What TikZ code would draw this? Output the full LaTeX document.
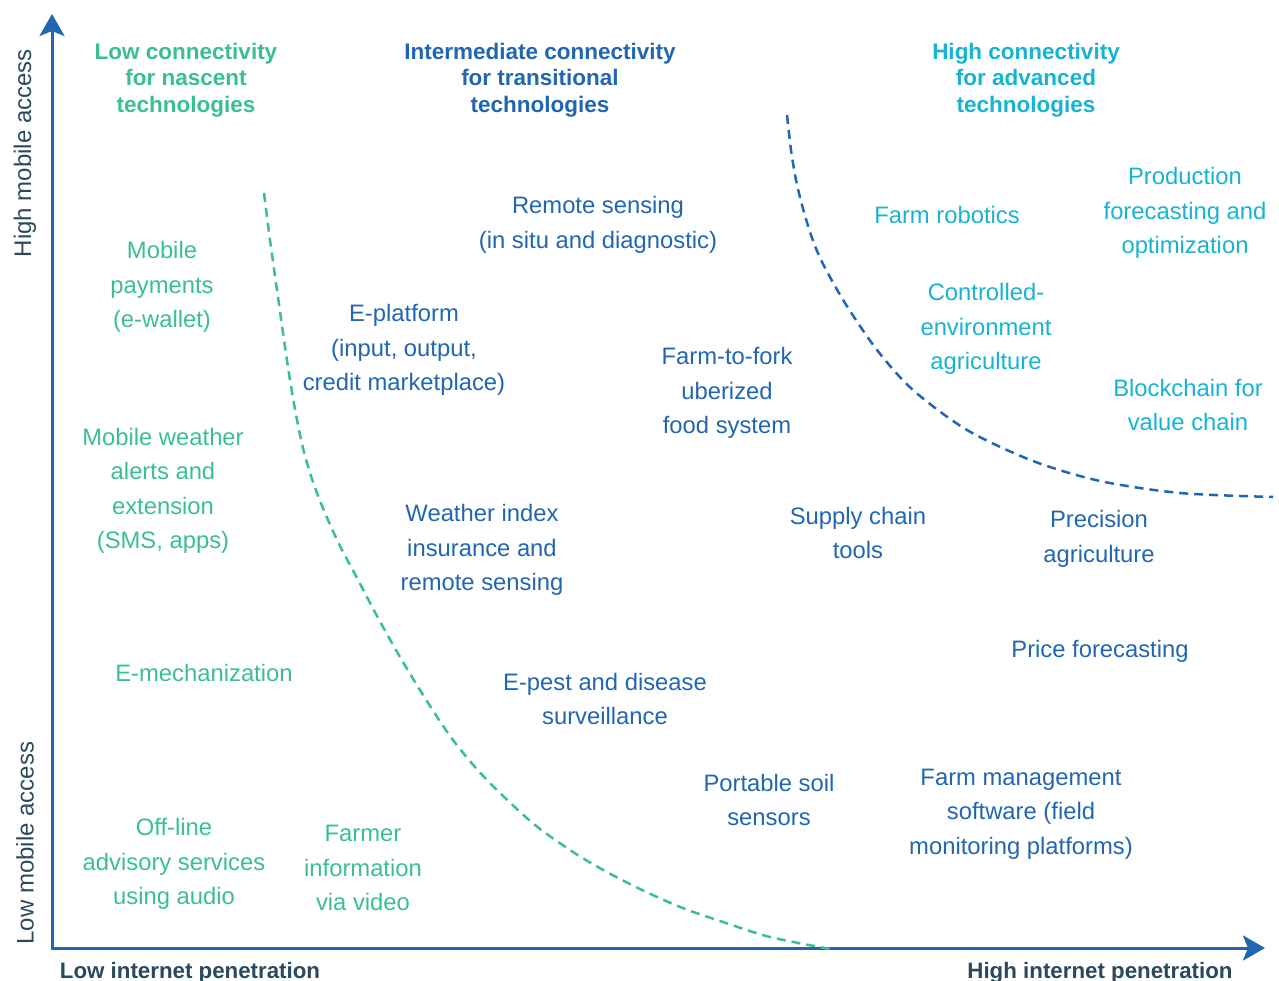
\documentclass[tikz,border=0pt]{standalone}
\usepackage{fontspec}
\setmainfont{Liberation Sans}
\usetikzlibrary{arrows.meta}
\definecolor{cgreen}{HTML}{3ABE96}
\definecolor{cblue}{HTML}{2166B1}
\definecolor{ccyan}{HTML}{17B3D1}
\definecolor{cdark}{HTML}{2A4A5C}
\begin{document}
\begin{tikzpicture}[x=1pt,y=-1pt,
  item/.style={inner sep=0pt,align=center,font=\fontsize{23.8}{34.5}\selectfont},
  head/.style={inner sep=0pt,align=center,font=\fontsize{22.5}{26.5}\selectfont\bfseries},
  axlab/.style={inner sep=0pt,text=cdark},
  gitem/.style={item,text=cgreen},
  bitem/.style={item,text=cblue},
  citem/.style={item,text=ccyan},
  axisline/.style={draw=cblue,line width=3pt,{Stealth[length=22pt,width=25pt,inset=5pt]}-{Stealth[length=22pt,width=25pt,inset=5pt]}},
  border/.style={line width=2.5pt,dash pattern=on 9pt off 6pt}]
\useasboundingbox (0,0) rectangle (1279,981);
% axes
\coordinate (ytop) at (52,14);
\coordinate (orig) at (52,948);
\coordinate (xend) at (1265,948);
\draw[axisline] (ytop) -- (orig) -- (xend);
% boundaries
\draw[border,draw=cgreen] plot[smooth,tension=0.5] coordinates {(264,193) (270,240) (277,290) (284,340) (290,380) (297,420) (304,452) (313,482) (325,513) (340,546) (356,576) (377,616) (400,657) (425,698) (450,736) (475,767) (500,793) (535,825) (573,852) (605,871) (640,889) (680,907) (723,922) (770,937) (830,949)};
\draw[border,draw=cblue] plot[smooth,tension=0.5] coordinates {(787,115) (791,150) (796,180) (802,205) (811,235) (822,262) (845,303) (877,350) (913,390) (967,430) (1033,461) (1100,481) (1180,493) (1273,497)};
% axis labels
\node[axlab,rotate=90,font=\fontsize{24}{28}\selectfont] (hma) at (25,153) {High mobile access};
\node[axlab,rotate=90,font=\fontsize{24}{28}\selectfont] (lma) at (25,843) {Low mobile access};
\node[axlab,font=\fontsize{22.3}{26}\selectfont\bfseries] (lip) at (190,973) {Low internet penetration};
\node[axlab,font=\fontsize{22.3}{26}\selectfont\bfseries] (hip) at (1100,973) {High internet penetration};
% headings
\node[head,text=cgreen] (h1) at (186,80) {Low connectivity\\for nascent\\technologies};
\node[head,text=cblue] (h2) at (540,80) {Intermediate connectivity\\for transitional\\technologies};
\node[head,text=ccyan] (h3) at (1026,80) {High connectivity\\for advanced\\technologies};
% green items
\node[gitem] (mp) at (162,287) {Mobile\\payments\\(e-wallet)};
\node[gitem] (mw) at (163,491) {Mobile weather\\alerts and\\extension\\(SMS, apps)};
\node[gitem] (em) at (204,673) {E-mechanization};
\node[gitem] (oa) at (174,864) {Off-line\\advisory services\\using audio};
\node[gitem] (fi) at (363,868) {Farmer\\information\\via video};
% blue items
\node[bitem] (rs) at (598,225) {Remote sensing\\(in situ and diagnostic)};
\node[bitem] (ep) at (404,350) {E-platform\\(input, output,\\credit marketplace)};
\node[bitem] (ff) at (727,393) {Farm-to-fork\\uberized\\food system};
\node[bitem] (wi) at (482,550) {Weather index\\insurance and\\remote sensing};
\node[bitem] (sc) at (858,533) {Supply chain\\tools};
\node[bitem] (pa) at (1099,539) {Precision\\agriculture};
\node[bitem] (pf) at (1100,651) {Price forecasting};
\node[bitem] (pd) at (605,699) {E-pest and disease\\surveillance};
\node[bitem] (ps) at (769,800) {Portable soil\\sensors};
\node[bitem] (fm) at (1021,814) {Farm management\\software (field\\monitoring platforms)};
% cyan items
\node[citem] (fr) at (947,215) {Farm robotics};
\node[citem] (po) at (1185,213) {Production\\forecasting and\\optimization};
\node[citem] (ce) at (986,329) {Controlled-\\environment\\agriculture};
\node[citem] (bc) at (1188,405) {Blockchain for\\value chain};
\end{tikzpicture}
\end{document}
